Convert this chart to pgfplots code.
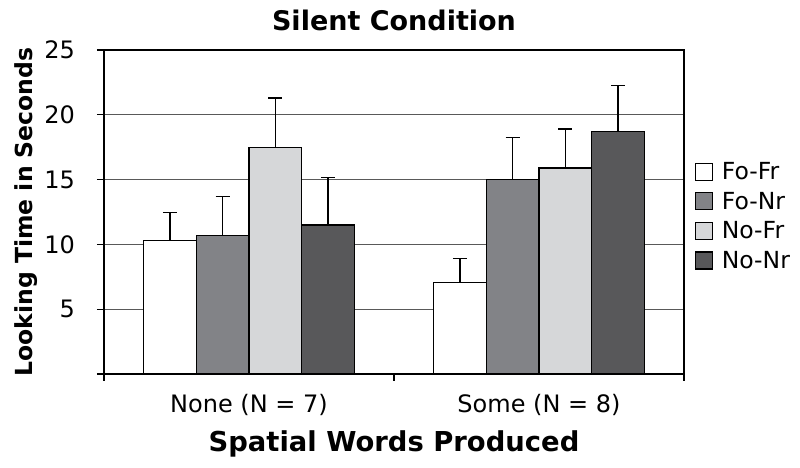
\documentclass[border=0pt]{standalone}
\usepackage{pgfplots}
\pgfplotsset{compat=1.18}
\usepackage{fontspec}
\setmainfont{DejaVu Sans}

\definecolor{fofr}{RGB}{255,255,255}
\definecolor{fonr}{RGB}{130,131,135}
\definecolor{nofr}{RGB}{214,215,217}
\definecolor{nonr}{RGB}{88,88,90}

\begin{document}
\begin{tikzpicture}
\path[use as bounding box] (0pt,0pt) rectangle (800pt,468pt);
\begin{axis}[
    at={(104pt,94pt)}, anchor=south west,
    scale only axis,
    width=580pt, height=324pt,
    xmin=-0.5, xmax=1.5,
    ymin=0, ymax=25,
    ybar=0pt, bar width=52.7pt,
    ytick={0,5,10,15,20,25},
    yticklabels={,5,10,15,20,25},
    xtick={-0.5,0.5,1.5},
    xticklabels={,,},
    extra x ticks={0,1},
    extra x tick labels={None (N = 7),Some (N = 8)},
    extra x tick style={major tick length=0pt},
    tick pos=left,
    tick align=outside,
    major tick length=7pt,
    tick style={black, line width=1.3pt},
    axis line style={black, line width=1.4pt},
    ymajorgrids=true,
    grid style={gray!70!black, line width=0.9pt},
    /pgf/number format/assume math mode=true,
    ticklabel style={font=\fontsize{24}{28}\selectfont},
    yticklabel style={anchor=east, inner sep=0pt, xshift=-22pt},
    xticklabel style={anchor=base, yshift=-39pt},
    title={Silent Condition},
    title style={at={(0.5,1)}, anchor=base, yshift=13pt, font=\fontsize{27}{32}\selectfont\bfseries},
    xlabel={Spatial Words Produced},
    xlabel style={at={(axis description cs:0.5,0)}, anchor=base, yshift=-78pt, font=\fontsize{27.4}{32}\selectfont\bfseries},
    ylabel={Looking Time in Seconds},
    ylabel style={at={(axis description cs:-0.124,0.5)}, anchor=base, font=\fontsize{23.5}{28}\selectfont\bfseries},
    error bars/y dir=plus,
    error bars/y explicit,
    error bars/error bar style={black, line width=1.4pt},
    error bars/error mark options={rotate=90, mark size=7pt, line width=1.4pt, black},
    legend image code/.code={\draw[#1, line width=1.2pt] (0pt,-8.5pt) rectangle (17pt,8.5pt);},
    legend style={draw=none, fill=none, at={(axis description cs:1.018,0.66)}, anchor=north west,
        font=\fontsize{23.5}{27}\selectfont, row sep=7pt, inner sep=0pt,
        nodes={inner sep=2pt},
        /tikz/every odd column/.append style={column sep=7pt}},
    legend cell align={left},
]

\addplot[draw=black, line width=1.3pt, fill=fofr] coordinates {
  (0,10.3) +- (0,2.18)
  (1,7.07) +- (0,1.83)
};
\addplot[draw=black, line width=1.3pt, fill=fonr] coordinates {
  (0,10.67) +- (0,3.04)
  (1,15.0) +- (0,3.24)
};
\addplot[draw=black, line width=1.3pt, fill=nofr] coordinates {
  (0,17.5) +- (0,3.8)
  (1,15.9) +- (0,3.0)
};
\addplot[draw=black, line width=1.3pt, fill=nonr] coordinates {
  (0,11.5) +- (0,3.68)
  (1,18.73) +- (0,3.55)
};
\legend{Fo-Fr,Fo-Nr,No-Fr,No-Nr}

\end{axis}
\end{tikzpicture}
\end{document}
